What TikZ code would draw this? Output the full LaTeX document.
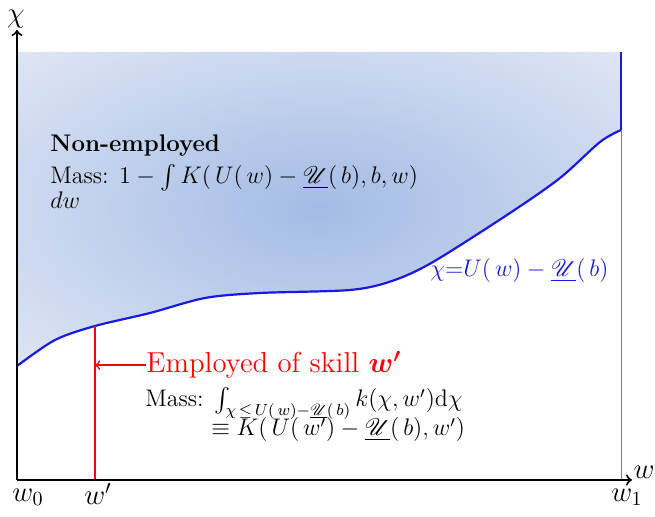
\documentclass[tikz,border=0pt]{standalone}
\usepackage{amsmath, amssymb}
\usepackage{mathrsfs}
\usetikzlibrary{calc}
\definecolor{curveblue}{RGB}{25,25,225}
\definecolor{shadein}{RGB}{163,187,229}
\definecolor{shadeout}{RGB}{222,229,244}
\pgfdeclareradialshading{regionshade}{\pgfpoint{0bp}{0bp}}{color(0bp)=(shadein); color(35bp)=(shadeout); color(50bp)=(shadeout)}
\newcommand{\Ub}{\underline{\mathscr{U}}}

\begin{document}
\begin{tikzpicture}[x=0.5pt, y=-0.5pt, font=\large]
\useasboundingbox (0,0) rectangle (655,517);
\coordinate (O) at (17,480);
\coordinate (Y) at (17,30);
\coordinate (X) at (632,480);
\coordinate (TL) at (17,52);
\coordinate (TR) at (621,52);
\coordinate (R) at (621,130);
\coordinate (W1) at (621,480);
\coordinate (P) at (95,326);
\coordinate (Wp) at (95,480);
% non-employed region above the curve
\path[shading=regionshade] plot[smooth] coordinates {(17,366) (55,340) (95,326) (150,313) (205,298) (260,293) (350,290) (392,281) (433,262) (510,213) (560,178) (600,142) (621,130)} -- (TR) -- (TL) -- cycle;
\draw[curveblue, line width=1.1pt] plot[smooth] coordinates {(17,366) (55,340) (95,326) (150,313) (205,298) (260,293) (350,290) (392,281) (433,262) (510,213) (560,178) (600,142) (621,130)};
\draw[curveblue, line width=1.1pt] (R) -- (TR);
\draw[gray] (R) -- (W1);
\draw[red, line width=1.1pt] (P) -- (Wp);
\draw[line width=1pt, ->] (O) -- (Y);
\draw[line width=1pt, ->] (O) -- (X);
\node[font=\Large] (chi) at (16,19) {$\chi$};
\node[font=\Large] (wlab) at (644,472) {$w$};
\node[font=\Large] (w0) at (28,497) {$w_0$};
\node[font=\Large] (wp) at (98,494) {$w'$};
\node[font=\Large] (w1) at (627,497) {$w_1$};
\node[anchor=base west, inner sep=0, font=\large\bfseries] (nonemp) at (50,152) {Non-employed};
\node[anchor=base west, inner sep=0] (nonmass) at (50,184) {Mass: $1 - \int K(\,U(\,w) - \Ub(\,b), b, w)$};
\node[anchor=base west, inner sep=0] (dw) at (50,209) {$dw$};
\node[curveblue, anchor=base west, inner sep=0] (ulab) at (430,277) {$\chi{=}U(\,w) - \Ub(\,b)$};
\node[red, anchor=base west, inner sep=0, font=\Large] (emp) at (146,373) {Employed of skill $\boldsymbol{w'}$};
\draw[red, thick, ->] (emp.west) -- (emp.west -| P);
\node[anchor=base west, inner sep=0] (empmass) at (145,407) {Mass: $\int_{\chi \,\le\, U(\,w) - \Ub(\,b)} k(\chi,w')\mathrm{d}\chi$};
\node[anchor=base west, inner sep=0] (empk) at (211,436) {$\equiv K(\,U(\,w') - \Ub(\,b), w')$};
\end{tikzpicture}
\end{document}
